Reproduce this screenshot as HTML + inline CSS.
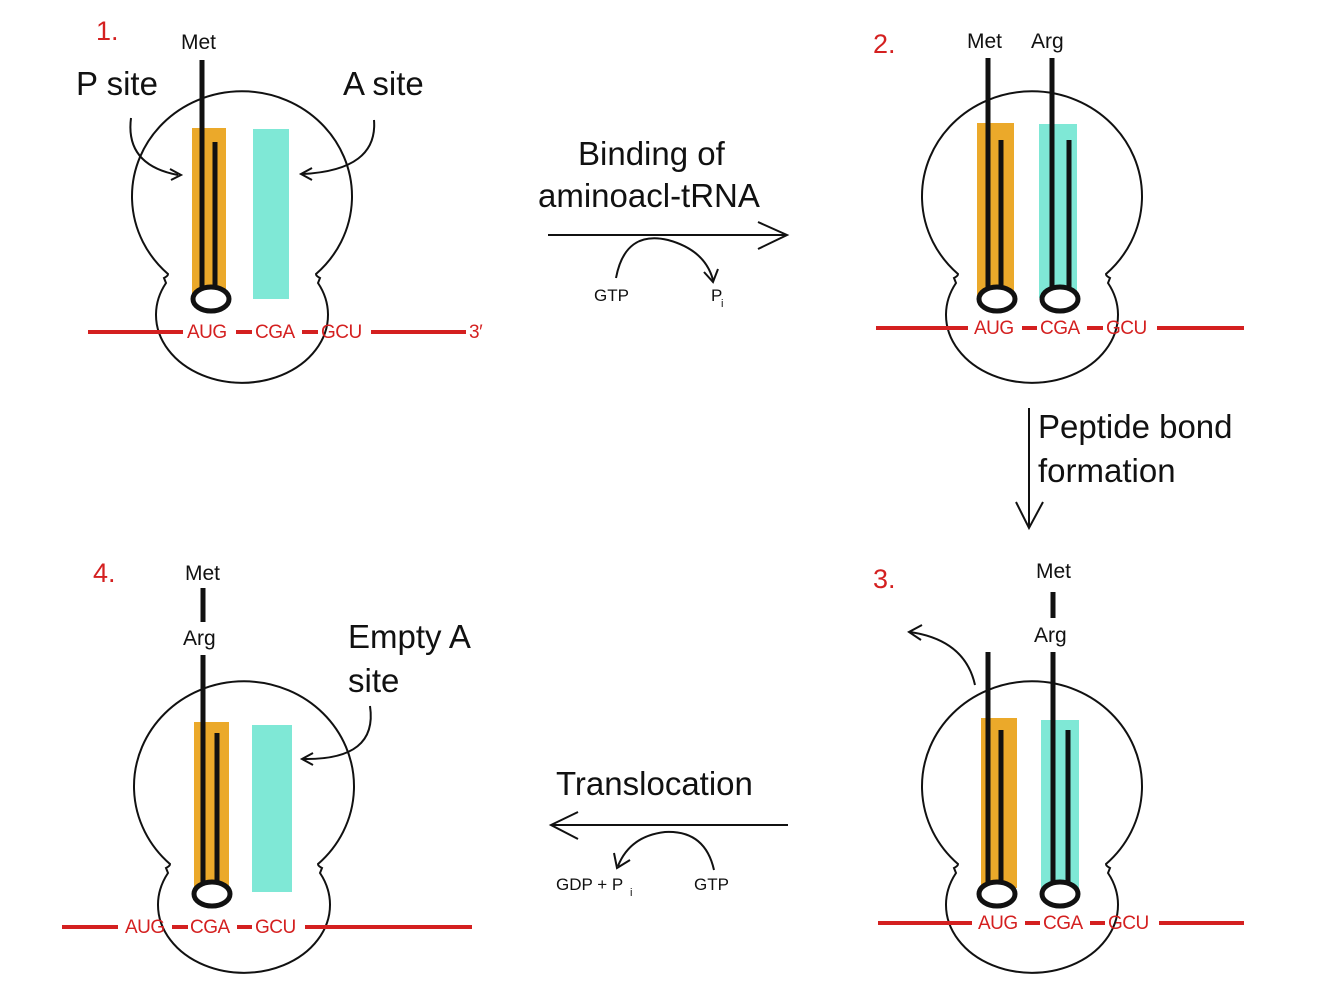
<!DOCTYPE html>
<html><head><meta charset="utf-8"><style>
html,body{margin:0;padding:0;background:#fff;}
svg{display:block;}
text{font-family:"Liberation Sans",sans-serif;}
.big{font-size:33px;fill:#111;}
.lab{font-size:21px;fill:#111;}
.num{font-size:27px;fill:#d42020;}
.m{font-size:19px;fill:#d42020;letter-spacing:-0.5px;}
.sm{font-size:17px;fill:#111;}
</style></head><body>
<svg width="1334" height="988" viewBox="0 0 1334 988" xmlns="http://www.w3.org/2000/svg">
<defs>
<path id="rib" d="M166,283 L164,278 Q168,276 168,274 A110,105 0 1 1 316,274 Q316,276 320,278 L318,283 A86,68 0 1 1 166,283 Z" fill="none" stroke="#111" stroke-width="2"/>
</defs>
<g fill="none" stroke="#111" stroke-width="2">
<use href="#rib"/>
<use href="#rib" transform="translate(790,0)"/>
<use href="#rib" transform="translate(790,590)"/>
<use href="#rib" transform="translate(2,590)"/>
</g>
<!-- Panel 1 -->
<rect x="192" y="128" width="34" height="170" fill="#eba92a"/>
<rect x="253" y="129" width="36" height="170" fill="#7fe8d6"/>
<g stroke="#111" stroke-width="5" fill="none">
<line x1="202" y1="60" x2="202" y2="288"/>
<line x1="215" y1="142" x2="215" y2="288"/>
<ellipse cx="211" cy="299" rx="18" ry="12" fill="#fff"/>
</g>
<text class="num" x="96" y="40">1.</text>
<text class="lab" x="181" y="49">Met</text>
<text class="big" x="76" y="95">P site</text>
<text class="big" x="343" y="95">A site</text>
<path d="M131,118 Q125,165 178,175" stroke="#111" stroke-width="2" fill="none"/>
<path d="M170,169 L181,175 L171,180" stroke="#111" stroke-width="2" fill="none"/>
<path d="M374,120 Q378,170 303,174" stroke="#111" stroke-width="2" fill="none"/>
<path d="M312,168 L301,174 L312,180" stroke="#111" stroke-width="2" fill="none"/>
<g stroke="#d42020" stroke-width="4">
<line x1="88" y1="332" x2="183" y2="332"/><line x1="236" y1="332" x2="252" y2="332"/>
<line x1="302" y1="332" x2="318" y2="332"/><line x1="371" y1="332" x2="466" y2="332"/>
</g>
<text class="m" x="187" y="338">AUG</text><text class="m" x="255" y="338">CGA</text><text class="m" x="321" y="338">GCU</text><text class="m" x="469" y="338">3′</text>
<!-- Arrow 1 -->
<text class="big" x="578" y="165">Binding of</text>
<text class="big" x="538" y="207">aminoacl-tRNA</text>
<line x1="548" y1="235" x2="786" y2="235" stroke="#111" stroke-width="2"/>
<path d="M758,222 L787,235 L758,249" stroke="#111" stroke-width="2" fill="none"/>
<path d="M616,278 Q625,230 668,240 Q705,250 713,280" stroke="#111" stroke-width="2" fill="none"/>
<path d="M704,272 L713,282 L718,269" stroke="#111" stroke-width="2" fill="none"/>
<text class="sm" x="594" y="301">GTP</text>
<text class="sm" x="711" y="301">P</text><text x="721" y="307" style="font-size:11px;fill:#111">i</text>
<!-- Panel 2 -->
<rect x="977" y="123" width="37" height="175" fill="#eba92a"/>
<rect x="1039" y="124" width="38" height="174" fill="#7fe8d6"/>
<g stroke="#111" stroke-width="5" fill="none">
<line x1="988" y1="58" x2="988" y2="288"/><line x1="1001" y1="140" x2="1001" y2="288"/>
<ellipse cx="997" cy="299" rx="18" ry="12" fill="#fff"/>
<line x1="1052" y1="58" x2="1052" y2="288"/><line x1="1069" y1="140" x2="1069" y2="288"/>
<ellipse cx="1060" cy="299" rx="18" ry="12" fill="#fff"/>
</g>
<text class="num" x="873" y="53">2.</text>
<text class="lab" x="967" y="48">Met</text><text class="lab" x="1031" y="48">Arg</text>
<g stroke="#d42020" stroke-width="4">
<line x1="876" y1="328" x2="968" y2="328"/><line x1="1022" y1="328" x2="1037" y2="328"/>
<line x1="1087" y1="328" x2="1103" y2="328"/><line x1="1157" y1="328" x2="1244" y2="328"/>
</g>
<text class="m" x="974" y="334">AUG</text><text class="m" x="1040" y="334">CGA</text><text class="m" x="1106" y="334">GCU</text>
<!-- vertical arrow -->
<line x1="1029" y1="408" x2="1029" y2="528" stroke="#111" stroke-width="2"/>
<path d="M1016,502 L1029,528 L1043,502" stroke="#111" stroke-width="2" fill="none"/>
<text class="big" x="1038" y="438">Peptide bond</text>
<text class="big" x="1038" y="482">formation</text>
<!-- Panel 3 -->
<rect x="981" y="718" width="36" height="170" fill="#eba92a"/>
<rect x="1041" y="720" width="38" height="170" fill="#7fe8d6"/>
<g stroke="#111" stroke-width="5" fill="none">
<line x1="988" y1="652" x2="988" y2="883"/><line x1="1001" y1="730" x2="1001" y2="883"/>
<ellipse cx="997" cy="894" rx="18" ry="12" fill="#fff"/>
<line x1="1053" y1="592" x2="1053" y2="618"/>
<line x1="1053" y1="652" x2="1053" y2="883"/><line x1="1068" y1="730" x2="1068" y2="883"/>
<ellipse cx="1060" cy="894" rx="18" ry="12" fill="#fff"/>
</g>
<text class="num" x="873" y="588">3.</text>
<text class="lab" x="1036" y="578">Met</text><text class="lab" x="1034" y="642">Arg</text>
<path d="M975,685 Q965,640 910,632" stroke="#111" stroke-width="2" fill="none"/>
<path d="M922,625 L909,632 L921,640" stroke="#111" stroke-width="2" fill="none"/>
<g stroke="#d42020" stroke-width="4">
<line x1="878" y1="923" x2="972" y2="923"/><line x1="1025" y1="923" x2="1040" y2="923"/>
<line x1="1090" y1="923" x2="1105" y2="923"/><line x1="1159" y1="923" x2="1244" y2="923"/>
</g>
<text class="m" x="978" y="929">AUG</text><text class="m" x="1043" y="929">CGA</text><text class="m" x="1108" y="929">GCU</text>
<!-- bottom arrow -->
<text class="big" x="556" y="795">Translocation</text>
<line x1="551" y1="825" x2="788" y2="825" stroke="#111" stroke-width="2"/>
<path d="M578,812 L551,825 L578,839" stroke="#111" stroke-width="2" fill="none"/>
<path d="M714,870 Q705,830 665,832 Q630,836 618,866" stroke="#111" stroke-width="2" fill="none"/>
<path d="M614,853 L617,868 L630,860" stroke="#111" stroke-width="2" fill="none"/>
<text class="sm" x="556" y="890">GDP + P</text><text x="630" y="896" style="font-size:11px;fill:#111">i</text>
<text class="sm" x="694" y="890">GTP</text>
<!-- Panel 4 -->
<rect x="194" y="722" width="35" height="166" fill="#eba92a"/>
<rect x="252" y="725" width="40" height="167" fill="#7fe8d6"/>
<g stroke="#111" stroke-width="5" fill="none">
<line x1="203" y1="588" x2="203" y2="622"/>
<line x1="203" y1="655" x2="203" y2="883"/><line x1="217" y1="733" x2="217" y2="883"/>
<ellipse cx="212" cy="894" rx="18" ry="12" fill="#fff"/>
</g>
<text class="num" x="93" y="582">4.</text>
<text class="lab" x="185" y="580">Met</text><text class="lab" x="183" y="645">Arg</text>
<text class="big" x="348" y="648">Empty A</text>
<text class="big" x="348" y="692">site</text>
<path d="M370,706 Q378,760 304,759" stroke="#111" stroke-width="2" fill="none"/>
<path d="M313,753 L302,759 L313,765" stroke="#111" stroke-width="2" fill="none"/>
<g stroke="#d42020" stroke-width="4">
<line x1="62" y1="927" x2="118" y2="927"/><line x1="172" y1="927" x2="188" y2="927"/>
<line x1="237" y1="927" x2="252" y2="927"/><line x1="305" y1="927" x2="472" y2="927"/>
</g>
<text class="m" x="125" y="933">AUG</text><text class="m" x="190" y="933">CGA</text><text class="m" x="255" y="933">GCU</text>
</svg>
</body></html>
